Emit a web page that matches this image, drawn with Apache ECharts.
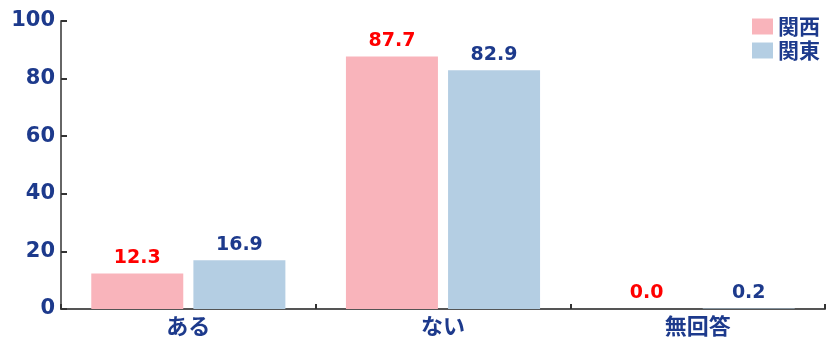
<!DOCTYPE html>
<html>
<head>
<meta charset="utf-8">
<script src="https://cdn.jsdelivr.net/npm/echarts@6/dist/echarts.min.js"></script>
<style>
  html, body { margin: 0; padding: 0; background: #fff; }
  #chart { width: 829px; height: 349px; }
</style>
</head>
<body>
<div id="chart"></div>
<script>
// 回答の区分
const categories = ['ある', 'ない', '無回答'];
const kansai = [12.3, 87.7, 0.0];
const kanto = [16.9, 82.9, 0.2];
const yTicks = [0, 20, 40, 60, 80, 100];

const FONT = '"DejaVu Sans", "Noto Sans CJK JP", sans-serif';
const JP = '"Noto Sans CJK JP", sans-serif';
const NAVY = '#1d3a8c';

const chart = echarts.init(document.getElementById('chart'));

chart.setOption({
  animation: false,
  textStyle: { fontFamily: FONT },
  grid: { left: 61, right: 4, top: 21, bottom: 40 },
  legend: {
    orient: 'vertical',
    right: 4,
    top: 11,
    itemWidth: 21,
    itemHeight: 16,
    itemGap: 3,
    icon: 'rect',
    textStyle: { color: NAVY, fontWeight: 'bold', fontSize: 21, fontFamily: JP, padding: [0, 0, 0, 0] },
    data: ['関西', '関東']
  },
  xAxis: {
    type: 'category',
    data: categories,
    axisLine: { lineStyle: { color: '#555', width: 2 } },
    axisTick: { show: true, inside: true, length: 5, lineStyle: { color: '#333', width: 2 } },
    axisLabel: { color: NAVY, fontWeight: 'bold', fontSize: 22, margin: 6, fontFamily: JP }
  },
  yAxis: {
    type: 'value',
    min: 0,
    max: yTicks[yTicks.length - 1],
    interval: 20,
    splitLine: { show: false },
    axisLine: { show: true, lineStyle: { color: '#666', width: 2 } },
    axisTick: { show: true, inside: true, length: 6, lineStyle: { color: '#333', width: 2 } },
    axisLabel: { color: NAVY, fontWeight: 'bold', fontSize: 21, margin: 6 }
  },
  series: [
    {
      name: '関西',
      type: 'bar',
      data: kansai,
      barWidth: 92,
      barGap: '11%',
      itemStyle: { color: '#f9b4bb' },
      label: {
        show: true, position: 'top', distance: 6,
        color: '#ff0000', fontWeight: 'bold', fontSize: 19,
        formatter: p => p.value.toFixed(1)
      }
    },
    {
      name: '関東',
      type: 'bar',
      data: kanto,
      barWidth: 92,
      itemStyle: { color: '#b4cee3' },
      label: {
        show: true, position: 'top', distance: 6,
        color: NAVY, fontWeight: 'bold', fontSize: 19,
        formatter: p => p.value.toFixed(1)
      }
    }
  ]
});
</script>
</body>
</html>
